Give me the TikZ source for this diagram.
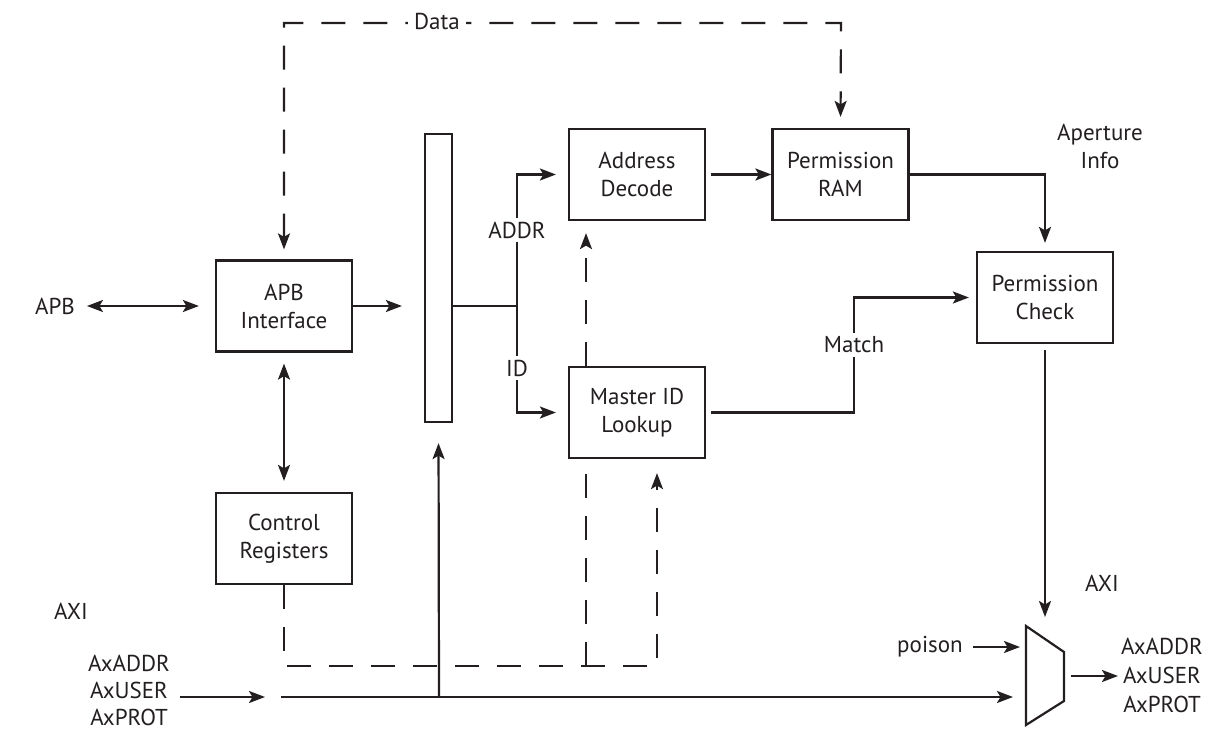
\documentclass[tikz,border=0pt]{standalone}
\usepackage{fontspec}
\setmainfont{PT Sans}
\usetikzlibrary{arrows.meta}
\definecolor{ink}{HTML}{231F20}
\newcommand{\fs}{\fontsize{23}{28}\selectfont}
\begin{document}
\begin{tikzpicture}[x=1pt,y=-1pt,line width=2.2pt,
  box/.style={draw=ink,line width=2.2pt,fill=white,minimum width=136pt,minimum height=91pt,align=center,inner sep=0pt,font=\fs,text=ink},
  lbl/.style={font=\fs,text=ink,align=center,inner sep=1pt},
  wlbl/.style={lbl,fill=white,inner sep=4pt},
  arr/.style={draw=ink,-{Stealth[length=16pt,width=12pt,inset=3.5pt]}},
  dbl/.style={draw=ink,{Stealth[length=16pt,width=12pt,inset=3.5pt]}-{Stealth[length=16pt,width=12pt,inset=3.5pt]}},
  dashline/.style={draw=ink,dash pattern=on 24pt off 18pt},
  plain/.style={draw=ink}]
\useasboundingbox (0,0) rectangle (1208,731);
% boxes
\node[box] (apb) at (284,306) {APB\\Interface};
\node[box] (ctrl) at (284,538.5) {Control\\Registers};
\node[box] (addr) at (637,174.5) {Address\\Decode};
\node[box] (mid) at (637,412.5) {Master ID\\Lookup};
\node[box] (ram) at (840.5,174.5) {Permission\\RAM};
\node[box] (chk) at (1045,297.5) {Permission\\Check};
\node[draw=ink,line width=2.2pt,minimum width=27pt,minimum height=288pt,inner sep=0pt] (bar) at (438.5,278) {};
% mux
\coordinate (m1) at (1026,626);
\coordinate (m2) at (1064,652);
\coordinate (m3) at (1064,701);
\coordinate (m4) at (1026,725);
\draw[plain,line join=miter] (m1) -- (m2) -- (m3) -- (m4) -- cycle;
% labels
\node[lbl] (apbl) at (55,306) {APB};
\node[lbl] (axil) at (71,611) {AXI};
\node[lbl,font=\fontsize{23}{27}\selectfont] (axin) at (129,690) {AxADDR\\AxUSER\\AxPROT};
\node[lbl,font=\fontsize{23}{29}\selectfont] (axout) at (1162,675) {AxADDR\\AxUSER\\AxPROT};
\node[lbl] (axir) at (1102,583) {AXI};
\node[lbl] (poison) at (930,647) {poison};
\node[lbl] (aper) at (1100,146) {Aperture\\Info};
% coordinates
\coordinate (split) at (517,306);
\coordinate (dr) at (841,23);
\coordinate (muxtop) at (1045,617);
\coordinate (muxin1) at (1020,647);
\coordinate (muxin2) at (1013,697);
\coordinate (busstart) at (281,697);
\coordinate (axarr) at (265,697);
\coordinate (tap) at (439,697);
\coordinate (outs) at (1071,676);
\coordinate (oute) at (1118,676);
\coordinate (mj) at (657,666);
\coordinate (dj) at (586,666);
\coordinate (mk) at (854,412.5);
% solid connectors
\draw[dbl,shorten <=10pt,shorten >=16pt] (apbl.east) -- (apb.west);
\draw[arr,shorten >=22pt] (apb.east) -- (bar.west |- apb.east);
\draw[dbl,shorten <=11pt,shorten >=11pt] (apb.south) -- (ctrl.north);
\draw[plain] (bar.east |- split) -- (split);
\draw[arr,shorten >=12pt] (split) |- (addr.west);
\draw[arr,shorten >=12pt] (split) |- (mid.west);
\node[wlbl] (addrl) at (517,230) {ADDR};
\node[wlbl] (idl) at (517,368) {ID};
\draw[arr,shorten <=5pt] (addr.east) -- (ram.west);
\draw[arr,shorten >=8pt] (ram.east) -| (chk.north);
\draw[arr,shorten <=5pt,shorten >=7pt] (mid.east) -- (mk) |- (chk.west);
\node[wlbl] (match) at (854,345) {Match};
\draw[arr,shorten <=6pt] (chk.south) -- (muxtop);
\draw[arr,shorten <=8pt] (poison.east) -- (muxin1);
\draw[arr,shorten <=8pt] (axin.east |- axarr) -- (axarr);
\draw[arr] (busstart) -- (muxin2);
\draw[arr,shorten >=20pt] (tap) -- (bar.south);
\draw[arr] (outs) -- (oute);
% dashed connectors
\draw[dashline,dbl,shorten <=10pt,shorten >=11pt] (apb.north) |- (dr) -- (ram.north);
\node[wlbl,inner xsep=6pt] (data) at (437,21) {Data};
\draw[dashline,arr,shorten >=14pt] (ctrl.south) |- (mj) -- (mj |- mid.south);
\draw[dashline] (dj) -- (dj |- mid.south);
\draw[dashline,arr,shorten >=12pt] (dj |- mid.north) -- (dj |- addr.south);
\end{tikzpicture}
\end{document}
